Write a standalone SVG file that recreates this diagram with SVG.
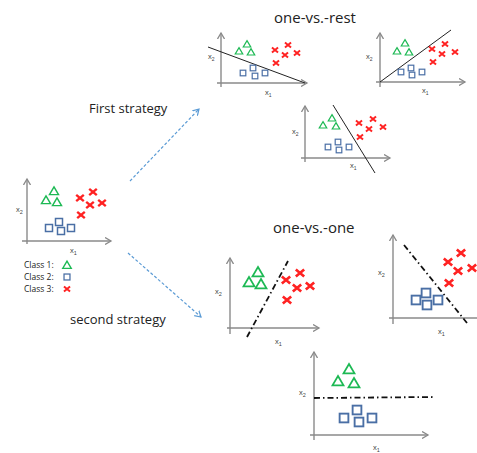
<svg xmlns="http://www.w3.org/2000/svg" xmlns:xlink="http://www.w3.org/1999/xlink" width="477" height="453" viewBox="0 0 477 453">
<style>
.ax{stroke:#8a8a8a;stroke-width:1.4;fill:none}
.sep{stroke:#222;stroke-width:1;fill:none}
.dd{stroke:#111;stroke-width:1.8;fill:none;stroke-dasharray:6 3 1.5 3}
.tri{fill:none;stroke:#1db954;stroke-width:1.6;stroke-linejoin:miter}
.sq{fill:none;stroke:#4a6fa5;stroke-width:1.5}
.cr{fill:none;stroke:#f22;stroke-width:2.4}
.lbl{font-family:"Open Sans","Liberation Sans",Arial,sans-serif;fill:#222}
.ax-l{font-family:"Liberation Sans",Arial,sans-serif;fill:#444;font-size:7.5px}
.arr{stroke:#5b9bd5;stroke-width:1.2;fill:none;stroke-dasharray:3 2}
</style>
<defs>
<path id="tri" class="tri" d="M0,-4.5 L5,4 L-5,4 Z"/>
<rect id="sq" class="sq" x="-3.5" y="-3.5" width="7" height="7"/>
<path id="cr" class="cr" d="M-3.8,-3.2 L3.8,3.2 M3.8,-3.2 L-3.8,3.2"/>
<marker id="ah" markerWidth="8" markerHeight="8" refX="6" refY="4" orient="auto" markerUnits="userSpaceOnUse">
<polyline points="0,0.5 6,4 0,7.5" fill="none" stroke="#8a8a8a" stroke-width="1.3"/>
</marker>
<marker id="bh" markerWidth="8" markerHeight="8" refX="6" refY="4" orient="auto" markerUnits="userSpaceOnUse">
<polyline points="0,0.5 6,4 0,7.5" fill="none" stroke="#5b9bd5" stroke-width="1.2"/>
</marker>
</defs>

<g id="connectors">
<line class="arr" x1="130" y1="181" x2="199" y2="109" marker-end="url(#bh)"/>
<line class="arr" x1="128" y1="253" x2="201" y2="317" marker-end="url(#bh)"/>
</g>

<g id="titles">
<text class="lbl" x="274" y="23" font-size="15">one-vs.-rest</text>
<text class="lbl" x="273" y="233" font-size="15">one-vs.-one</text>
<text class="lbl" x="89" y="113" font-size="13">First strategy</text>
<text class="lbl" x="70" y="324" font-size="13">second strategy</text>
</g>

<g id="main-plot">
<line class="ax" x1="27" y1="244" x2="27" y2="179" marker-end="url(#ah)"/>
<line class="ax" x1="22" y1="241" x2="111" y2="241" marker-end="url(#ah)"/>
<use href="#tri" transform="translate(54,191) scale(0.9)"/>
<use href="#tri" transform="translate(46,200) scale(0.9)"/>
<use href="#tri" transform="translate(57,202) scale(0.9)"/>
<use href="#cr" transform="translate(80,198)"/>
<use href="#cr" transform="translate(93,192)"/>
<use href="#cr" transform="translate(90,205)"/>
<use href="#cr" transform="translate(102,203)"/>
<use href="#cr" transform="translate(81,215)"/>
<use href="#sq" transform="translate(49,228)"/>
<use href="#sq" transform="translate(59,222)"/>
<use href="#sq" transform="translate(61,231)"/>
<use href="#sq" transform="translate(71,228)"/>
<text class="ax-l" x="16" y="212">x<tspan font-size="5.5" dy="2">2</tspan></text>
<text class="ax-l" x="70" y="253">x<tspan font-size="5.5" dy="2">1</tspan></text>
</g>

<g id="legend">
<text class="lbl" x="24" y="268" font-size="8.5">Class 1:</text>
<text class="lbl" x="24" y="280" font-size="8.5">Class 2:</text>
<text class="lbl" x="24" y="292" font-size="8.5">Class 3:</text>
<use href="#tri" transform="translate(67,265) scale(0.85)"/>
<use href="#sq" transform="translate(67,277) scale(0.85)"/>
<use href="#cr" transform="translate(67,289) scale(0.8)"/>
</g>

<g id="ovr-1">
<line class="ax" x1="221" y1="87" x2="221" y2="33" marker-end="url(#ah)"/>
<line class="ax" x1="217" y1="83" x2="307" y2="83" marker-end="url(#ah)"/>
<line class="sep" x1="208" y1="47" x2="305" y2="83"/>
<use href="#tri" transform="translate(247,44) scale(0.75)"/>
<use href="#tri" transform="translate(239,51) scale(0.75)"/>
<use href="#tri" transform="translate(251,52) scale(0.75)"/>
<use href="#cr" transform="translate(275,50) scale(0.8)"/>
<use href="#cr" transform="translate(288,45) scale(0.8)"/>
<use href="#cr" transform="translate(285,55) scale(0.8)"/>
<use href="#cr" transform="translate(297,53) scale(0.8)"/>
<use href="#cr" transform="translate(276,63) scale(0.8)"/>
<use href="#sq" transform="translate(243,73) scale(0.8)"/>
<use href="#sq" transform="translate(253,68) scale(0.8)"/>
<use href="#sq" transform="translate(255,76) scale(0.8)"/>
<use href="#sq" transform="translate(265,73) scale(0.8)"/>
<text class="ax-l" x="208" y="59" font-size="6.5">x<tspan font-size="5" dy="1.5">2</tspan></text>
<text class="ax-l" x="265" y="95" font-size="6.5">x<tspan font-size="5" dy="1.5">1</tspan></text>
</g>

<g id="ovr-2">
<line class="ax" x1="380" y1="87" x2="380" y2="33" marker-end="url(#ah)"/>
<line class="ax" x1="376" y1="82" x2="465" y2="82" marker-end="url(#ah)"/>
<line class="sep" x1="380" y1="82" x2="451" y2="30"/>
<use href="#tri" transform="translate(405,43) scale(0.75)"/>
<use href="#tri" transform="translate(397,51) scale(0.75)"/>
<use href="#tri" transform="translate(409,52) scale(0.75)"/>
<use href="#cr" transform="translate(432,49) scale(0.8)"/>
<use href="#cr" transform="translate(445,44) scale(0.8)"/>
<use href="#cr" transform="translate(442,54) scale(0.8)"/>
<use href="#cr" transform="translate(455,52) scale(0.8)"/>
<use href="#cr" transform="translate(433,62) scale(0.8)"/>
<use href="#sq" transform="translate(401,72) scale(0.8)"/>
<use href="#sq" transform="translate(411,68) scale(0.8)"/>
<use href="#sq" transform="translate(412,75) scale(0.8)"/>
<use href="#sq" transform="translate(422,72) scale(0.8)"/>
<text class="ax-l" x="366" y="59" font-size="6.5">x<tspan font-size="5" dy="1.5">2</tspan></text>
<text class="ax-l" x="422" y="93" font-size="6.5">x<tspan font-size="5" dy="1.5">1</tspan></text>
</g>

<g id="ovr-3">
<line class="ax" x1="305" y1="162" x2="305" y2="106" marker-end="url(#ah)"/>
<line class="ax" x1="301" y1="158" x2="390" y2="158" marker-end="url(#ah)"/>
<line class="sep" x1="333" y1="105" x2="375" y2="173"/>
<use href="#tri" transform="translate(332,118) scale(0.75)"/>
<use href="#tri" transform="translate(323,125) scale(0.75)"/>
<use href="#tri" transform="translate(336,126) scale(0.75)"/>
<use href="#cr" transform="translate(359,123) scale(0.8)"/>
<use href="#cr" transform="translate(373,119) scale(0.8)"/>
<use href="#cr" transform="translate(369,129) scale(0.8)"/>
<use href="#cr" transform="translate(383,127) scale(0.8)"/>
<use href="#cr" transform="translate(360,137) scale(0.8)"/>
<use href="#sq" transform="translate(328,147) scale(0.8)"/>
<use href="#sq" transform="translate(338,142) scale(0.8)"/>
<use href="#sq" transform="translate(339,150) scale(0.8)"/>
<use href="#sq" transform="translate(349,147) scale(0.8)"/>
<text class="ax-l" x="292" y="134" font-size="6.5">x<tspan font-size="5" dy="1.5">2</tspan></text>
<text class="ax-l" x="350" y="168" font-size="6.5">x<tspan font-size="5" dy="1.5">1</tspan></text>
</g>

<g id="ovo-1">
<line class="ax" x1="230" y1="334" x2="230" y2="258" marker-end="url(#ah)"/>
<line class="ax" x1="227" y1="328" x2="319" y2="328" marker-end="url(#ah)"/>
<line class="dd" x1="247" y1="337" x2="288" y2="261"/>
<use href="#tri" transform="translate(258,272) scale(1.1)"/>
<use href="#tri" transform="translate(249,282) scale(1.1)"/>
<use href="#tri" transform="translate(261,284) scale(1.1)"/>
<use href="#cr" transform="translate(286,280) scale(1.1)"/>
<use href="#cr" transform="translate(300,273) scale(1.1)"/>
<use href="#cr" transform="translate(297,288) scale(1.1)"/>
<use href="#cr" transform="translate(310,286) scale(1.1)"/>
<use href="#cr" transform="translate(287,300) scale(1.1)"/>
<text class="ax-l" x="215" y="294">x<tspan font-size="5.5" dy="2">2</tspan></text>
<text class="ax-l" x="275" y="344">x<tspan font-size="5.5" dy="2">1</tspan></text>
</g>

<g id="ovo-2">
<line class="ax" x1="393" y1="324" x2="393" y2="235" marker-end="url(#ah)"/>
<line class="ax" x1="389" y1="318" x2="477" y2="318"/>
<line class="dd" x1="404" y1="245" x2="467" y2="323"/>
<use href="#cr" transform="translate(448,262) scale(1.1)"/>
<use href="#cr" transform="translate(461,253) scale(1.1)"/>
<use href="#cr" transform="translate(458,271) scale(1.1)"/>
<use href="#cr" transform="translate(472,268) scale(1.1)"/>
<use href="#cr" transform="translate(449,283) scale(1.1)"/>
<use href="#sq" transform="translate(416,300) scale(1.25)"/>
<use href="#sq" transform="translate(426,293) scale(1.25)"/>
<use href="#sq" transform="translate(427,305) scale(1.25)"/>
<use href="#sq" transform="translate(438,300) scale(1.25)"/>
<text class="ax-l" x="378" y="275">x<tspan font-size="5.5" dy="2">2</tspan></text>
<text class="ax-l" x="438" y="334">x<tspan font-size="5.5" dy="2">1</tspan></text>
</g>

<g id="ovo-3">
<line class="ax" x1="314" y1="440" x2="314" y2="352" marker-end="url(#ah)"/>
<line class="ax" x1="310" y1="435" x2="428" y2="435" marker-end="url(#ah)"/>
<line class="dd" x1="314" y1="398" x2="435" y2="397"/>
<use href="#tri" transform="translate(349,369) scale(1.1)"/>
<use href="#tri" transform="translate(338,381) scale(1.1)"/>
<use href="#tri" transform="translate(354,383) scale(1.1)"/>
<use href="#sq" transform="translate(344,418) scale(1.25)"/>
<use href="#sq" transform="translate(357,410) scale(1.25)"/>
<use href="#sq" transform="translate(359,422) scale(1.25)"/>
<use href="#sq" transform="translate(372,418) scale(1.25)"/>
<text class="ax-l" x="299" y="395">x<tspan font-size="5.5" dy="2">2</tspan></text>
<text class="ax-l" x="373" y="450">x<tspan font-size="5.5" dy="2">1</tspan></text>
</g>
</svg>
